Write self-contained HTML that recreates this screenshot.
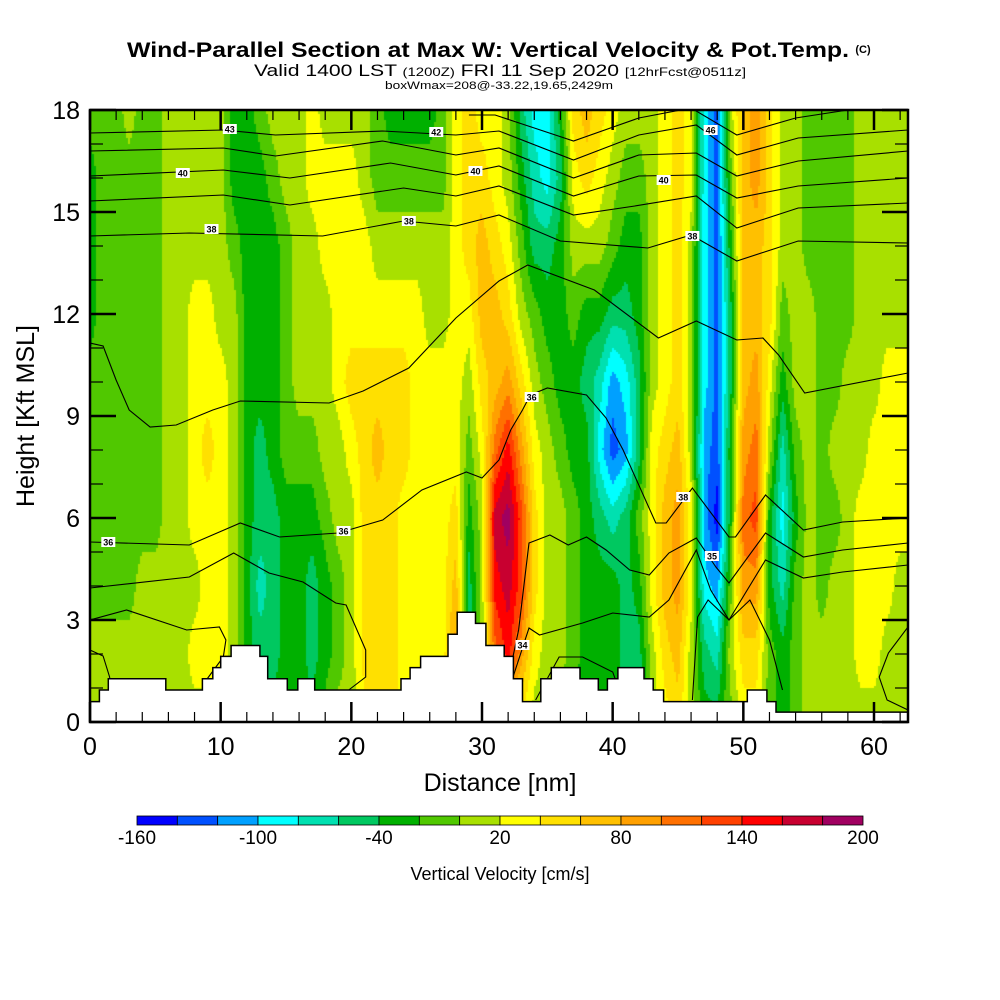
<!DOCTYPE html>
<html><head><meta charset="utf-8">
<style>
html,body{margin:0;padding:0;background:#fff;}
#wrap{position:relative;width:1000px;height:1000px;overflow:hidden;background:#fff;font-family:"Liberation Sans",sans-serif;}
#field{position:absolute;left:90px;top:110px;}
#ov{position:absolute;left:0;top:0;}
</style></head><body>
<div id="wrap">
<canvas id="field" width="818" height="612"></canvas>
<svg id="ov" width="1000" height="1000"></svg>
</div>
<script>
// ---- data ----
const distances = [0,1,2,3,4,5,6,7,8,9,10,11,12,13,14,15,16,17,18,19,20,21,22,23,24,25,26,27,28,29,30,31,32,33,34,35,36,37,38,39,40,41,42,43,44,45,46,47,48,49,50,51,52,53,54,55,56,57,58,59,60,61,62];
const heights = [0,2,4,6,8,10,12,14,16,18];
const wByColumn = [
[10,10,-10,-10,-10,-10,-30,-30,-30,-10],
[10,10,-10,-10,-10,-10,-10,-10,-10,-10],
[10,10,-10,-10,-10,-10,-10,-10,-10,-10],
[10,10,-10,-10,-10,-10,-10,-10,-10,10],
[10,10,10,-10,-10,-10,-10,-10,-10,-10],
[10,10,10,-10,-10,-10,-10,-10,-10,-10],
[10,10,10,10,10,10,10,10,10,10],
[10,10,10,10,10,10,10,10,10,10],
[10,30,10,30,30,30,30,10,10,10],
[10,30,30,30,50,30,30,10,10,10],
[10,30,30,30,30,30,10,10,10,10],
[10,10,10,10,10,10,10,-10,-30,-30],
[-10,-30,-30,-30,-30,-30,-30,-30,-30,-30],
[-30,-50,-70,-50,-50,-30,-30,-30,-30,-10],
[-30,-50,-50,-50,-30,-30,-30,-30,-10,10],
[-30,-30,-30,-30,-10,-10,-10,-10,10,10],
[-30,-30,-30,-30,-10,10,10,10,10,10],
[-30,-50,-50,-30,-10,10,10,10,30,30],
[-10,-30,-30,-10,10,10,10,30,30,10],
[10,-10,-10,10,10,30,30,30,30,10],
[10,10,10,10,30,50,30,30,30,10],
[30,50,50,50,50,50,30,30,10,10],
[50,50,50,50,70,50,30,10,-10,-10],
[50,50,50,50,50,50,30,10,-10,-30],
[30,30,30,30,50,50,30,10,-10,-30],
[30,30,30,30,30,30,30,10,-10,-30],
[30,30,30,30,30,30,10,10,-10,-30],
[30,30,30,30,30,30,10,10,-10,-10],
[50,90,70,50,30,30,30,30,30,30],
[-30,-70,-50,-30,-10,10,30,50,50,50],
[10,10,10,10,30,50,70,70,50,30],
[30,110,150,170,110,70,70,50,30,30],
[50,150,170,190,150,90,50,30,10,10],
[30,90,130,130,90,50,10,-10,-30,-50],
[10,30,50,50,30,10,-10,-50,-70,-90],
[10,10,10,10,10,-10,-30,-50,-90,-90],
[-10,10,10,10,-10,-30,-30,-30,-50,-30],
[-30,-10,-10,-10,-30,-30,-10,10,30,50],
[-30,-30,-30,-30,-30,-50,-30,10,50,70],
[-30,-30,-30,-50,-90,-70,-30,10,30,50],
[-30,-30,-30,-70,-130,-110,-50,-10,10,30],
[-50,-50,-50,-50,-110,-90,-50,-30,-10,10],
[-70,-50,-30,-10,-50,-50,-30,-30,-10,10],
[10,10,30,30,30,10,10,10,10,10],
[30,50,70,70,50,30,30,30,30,30],
[50,70,90,90,70,50,50,50,50,50],
[10,10,30,30,10,10,10,10,30,30],
[-30,-50,-90,-110,-110,-90,-90,-90,-90,-90],
[-30,-70,-110,-150,-130,-130,-130,-130,-130,-130],
[-10,10,-10,-30,-30,-50,-50,-30,-10,10],
[30,50,90,110,90,70,70,70,70,70],
[30,50,90,130,110,90,70,70,90,90],
[-10,-10,-30,-30,10,30,50,50,50,50],
[-30,-30,-70,-90,-70,-30,-10,10,10,10],
[-10,-10,-10,-30,-10,10,10,10,10,10],
[10,10,10,10,10,10,10,-10,-10,-10],
[10,10,-10,-10,-10,-10,-10,-10,-10,-10],
[10,10,10,-10,10,-10,-10,-10,-10,-10],
[10,10,10,10,10,10,-10,-10,-10,-10],
[10,30,30,30,10,10,10,10,10,10],
[10,30,30,30,30,10,10,10,10,10],
[10,10,30,30,30,30,10,10,10,10],
[10,10,10,30,30,30,10,10,10,10]
];
const levelColors = ["#0000ff","#0050ff","#00a0ff","#00ffff","#00e0b0","#00c860","#00b000","#50c800","#a8e000","#ffff00","#ffe000","#ffc000","#ffa000","#ff7000","#ff4000","#ff0000","#c80030","#a00060"];
const colorbarTicks = [-160,-100,-40,20,80,140,200];
const xTicks = [0,10,20,30,40,50,60];
const yTicks = [0,3,6,9,12,15,18];
const terrainStart = [0,0.72,1.4,5.8,8.6,9.4,10,10.8,13,13.6,15.1,15.9,17.2,23.8,24.5,25.3,27.4,28.1,29.5,30.3,31.7,32.4,33.1,34.5,35.3,37.5,38.9,39.6,40.4,42.4,43.1,43.9,50.3,51.8,52.5];
const terrainHeight = [0.6,0.94,1.27,0.94,1.27,1.6,1.93,2.25,1.93,1.27,0.94,1.27,0.94,1.27,1.6,1.93,2.58,3.23,2.9,2.25,1.93,1.27,0.6,1.27,1.6,1.27,0.94,1.27,1.6,1.27,0.94,0.6,0.94,0.6,0.29];
const thetaLines = [
 [[29,115],[31,115],[34,128],[37,141],[42,118],[46,108],[49.5,135],[54,118],[58,110],[62.6,108]],
 [[0,133],[10.2,130],[14.2,135],[22.4,131],[28,135],[31.3,131],[37,160],[42,135],[46.4,125],[49.5,155],[54.2,138],[62.6,130]],
 [[0,151],[10.2,148],[14.2,156],[22.4,141],[28,155],[31.3,148],[37,178],[42,155],[46.4,153],[49.5,176],[54.2,161],[62.6,151]],
 [[0,176],[10.2,170],[15.3,178],[23,163],[28,175],[31.3,166],[37,196],[42,176],[46.4,175],[49.5,198],[54.2,186],[62.6,178]],
 [[0,201],[10.2,195],[15.3,205],[24,188],[28,196],[31.3,186],[37,215],[41.7,206],[46.4,196],[49.5,228],[54.2,208],[62.6,203]],
 [[0,236],[7.6,233],[17.8,236],[24,221],[28,226],[31.3,215],[36,241],[42.7,248],[46,235],[49.5,261],[54.2,241],[62.6,243]],
 [[0,343],[1,346],[2,380],[3,410],[4.6,427],[6.6,425],[9.4,410],[11.5,401],[18.3,403],[20.9,391],[24.4,368],[28,318],[31.3,281],[33.5,265],[38.6,290],[43.5,338],[46.4,321],[49.5,340],[51.5,338],[52.7,355],[54.7,393],[62.6,373]],
 [[0,542],[7.6,545],[11.5,523],[14.5,537],[19,533],[22.4,520],[25.4,490],[28.8,472],[30,478],[31.3,460],[32.2,430],[33.1,410],[33.7,395],[35,388],[38,395],[39.5,418],[40.8,450],[43.3,523],[44.1,523],[46.1,488],[48.9,537],[49.4,537],[51.7,495],[54.6,530],[57.6,522],[62.6,518]],
 [[0,588],[7.6,577],[11,553],[13.7,573],[16.3,582],[18.8,603],[19.6,605],[21.1,650],[21.1,677],[19.8,690]],
 [[31.5,700],[32,680],[32.8,630],[33.6,543],[35.2,535],[36.6,545],[38,537],[39.5,550],[41.3,570],[42.8,575],[44.3,553],[46.4,538],[47.9,567],[48.9,583],[51.7,533],[54.6,557],[57.6,550],[62.6,543]],
 [[31.8,700],[33.6,628],[34.4,635],[37.7,623],[40,613],[42.8,617],[44.3,600],[46.4,550],[47.5,590],[48.9,620],[51.7,560],[54.6,578],[57.6,572],[62.6,565]],
 [[34.1,700],[35.9,657],[37.7,657],[40,672],[40.5,690]],
 [[46.1,700],[46.5,617],[47.3,600],[48.9,620],[50.5,600],[52,640],[53,690]],
 [[62.6,627],[61.1,653],[60.4,677],[61,700],[62.6,710]],
 [[0,650],[1,656],[1.5,677],[1.7,700]],
 [[0,620],[2.8,610],[7.4,630],[9.9,627],[10.4,640],[10.2,657],[8.9,680]]
];
const thetaLabels = [["43",10.7,129],["42",26.5,132],["40",7.1,173],["40",29.5,171],["40",43.9,180],["38",9.3,229],["38",24.4,221],["38",46.1,236],["46",47.5,130],["36",33.8,397],["36",1.4,542],["36",19.4,531],["38",45.4,497],["35",47.6,556],["34",33.1,645]];

const X0=90, X1=908, Y0=722, Y1=110;
const xs = nm => X0 + nm*(784/60);
const ys = z => Y0 - z*34;
const NS='http://www.w3.org/2000/svg';
const svg=document.getElementById('ov');
function mk(tag,attrs,parent){const e=document.createElementNS(NS,tag);for(const k in attrs)e.setAttribute(k,attrs[k]);(parent||svg).appendChild(e);return e;}
function colorFor(v){let i=Math.floor((v+160)/20);if(i<0)i=0;if(i>17)i=17;return levelColors[i];}
function sample(nm,z){
  let ci=Math.max(0,Math.min(distances.length-1.0001,nm-distances[0]));
  let c0=Math.floor(ci),fc=ci-c0,c1=Math.min(c0+1,distances.length-1);
  let ri=Math.max(0,Math.min(heights.length-1.0001,z/2));
  let r0=Math.floor(ri),fr=ri-r0,r1=Math.min(r0+1,heights.length-1);
  const a=wByColumn[c0][r0]*(1-fc)+wByColumn[c1][r0]*fc;
  const b=wByColumn[c0][r1]*(1-fc)+wByColumn[c1][r1]*fc;
  return a*(1-fr)+b*fr;
}
const cv=document.getElementById('field'),ctx=cv.getContext('2d');
const step=2;
for(let py=0;py<612;py+=step){for(let px=0;px<818;px+=step){
  const nm=(px+step/2)/(784/60), z=(612-py-step/2)/34;
  ctx.fillStyle=colorFor(sample(nm,z));ctx.fillRect(px,py,step,step);
}}
const defs=mk('defs',{});
const cp=mk('clipPath',{id:'plotclip'},defs);mk('rect',{x:X0,y:Y1,width:X1-X0,height:Y0-Y1},cp);
const gl=mk('g',{'clip-path':'url(#plotclip)'});


thetaLines.forEach((ln,i)=>{
  const pts=ln.map(p=>xs(p[0]).toFixed(1)+','+ys((Y0-p[1])/34).toFixed(1)).join(' ');
  const pl=mk('polyline',{points:pts,fill:'none',stroke:'#000','stroke-width':1.1},gl);
  
  
});
let d='M'+X0+','+Y0;
terrainStart.forEach((s,i)=>{const e=i+1<terrainStart.length?terrainStart[i+1]:62.6;const y=ys(terrainHeight[i]);d+=' L'+xs(s).toFixed(1)+','+y.toFixed(1)+' L'+xs(e).toFixed(1)+','+y.toFixed(1);});
d+=' L'+X1+','+Y0+' Z';
const terr=mk('path',{d:d,fill:'#fff',stroke:'#000','stroke-width':1.5});


thetaLabels.forEach(l=>{
  const x=xs(l[1]),y=l[2];
  const g=mk('g',{});
  
  
  mk('rect',{x:x-7,y:y-5,width:14,height:10,fill:'#fff'},g);
  const t=mk('text',{x:x,y:y+3.5,'font-size':9,'font-weight':'bold','text-anchor':'middle','font-family':'Liberation Sans, sans-serif'},g);t.textContent=l[0];
});
const fr=mk('rect',{x:X0,y:Y1,width:X1-X0,height:Y0-Y1,fill:'none',stroke:'#000','stroke-width':2.5});


const gt=mk('g',{stroke:'#000'});


for(let z=0;z<=18;z++){const y=ys(z),L=z%3==0?26:13,w=z%3==0?2.5:1.2;
  mk('line',{x1:X0,y1:y,x2:X0+L,y2:y,'stroke-width':w},gt);mk('line',{x1:X1,y1:y,x2:X1-L,y2:y,'stroke-width':w},gt);}
for(let n=0;n<=62;n+=2){const x=xs(n),maj=n%10==0,L=maj?20:10,w=maj?2.5:1.2;
  mk('line',{x1:x,y1:Y0,x2:x,y2:Y0-L,'stroke-width':w},gt);mk('line',{x1:x,y1:Y1,x2:x,y2:Y1+L,'stroke-width':w},gt);}
function txt(s,x,y,size,opt){const t=mk('text',Object.assign({x:x,y:y,'font-size':size,'font-family':'Liberation Sans, sans-serif','text-anchor':'middle'},opt||{}));t.textContent=s;return t;}
yTicks.forEach(v=>{const t=txt(String(v),80,ys(v)+9,25,{'text-anchor':'end'});});
xTicks.forEach(v=>{const t=txt(String(v),xs(v),755,25);});
let t;
t=txt('Distance [nm]',500,791,25);
t=txt('Height [Kft MSL]',0,0,25,{transform:'translate(34,416) rotate(-90)'});
t=txt('Wind-Parallel Section at Max W: Vertical Velocity & Pot.Temp.',488,57,21,{'font-weight':'bold',textLength:722,lengthAdjust:'spacingAndGlyphs'});
t=txt('(C)',863,53,11,{'font-weight':'bold'});
t=mk('text',{x:500,y:76,'font-size':17,'text-anchor':'middle','font-family':'Liberation Sans, sans-serif',textLength:492,lengthAdjust:'spacingAndGlyphs'});
t.innerHTML='Valid 1400 LST <tspan font-size="12">(1200Z)</tspan> FRI 11 Sep 2020 <tspan font-size="12">[12hrFcst@0511z]</tspan>';

t=txt('boxWmax=208@-33.22,19.65,2429m',499,89,11,{textLength:228,lengthAdjust:'spacingAndGlyphs'});
const cb=mk('g',{});


const cbx0=137,cbw=726/18;
levelColors.forEach((c,i)=>{const r=mk('rect',{x:cbx0+i*cbw,y:816,width:cbw,height:9,fill:c,stroke:'#000','stroke-width':0.8},cb);});
colorbarTicks.forEach(v=>{const x=cbx0+(v+160)/20*cbw;const tt=txt(String(v),x,844,19,{});});
t=txt('Vertical Velocity [cm/s]',500,880,18);
</script>
</body></html>
